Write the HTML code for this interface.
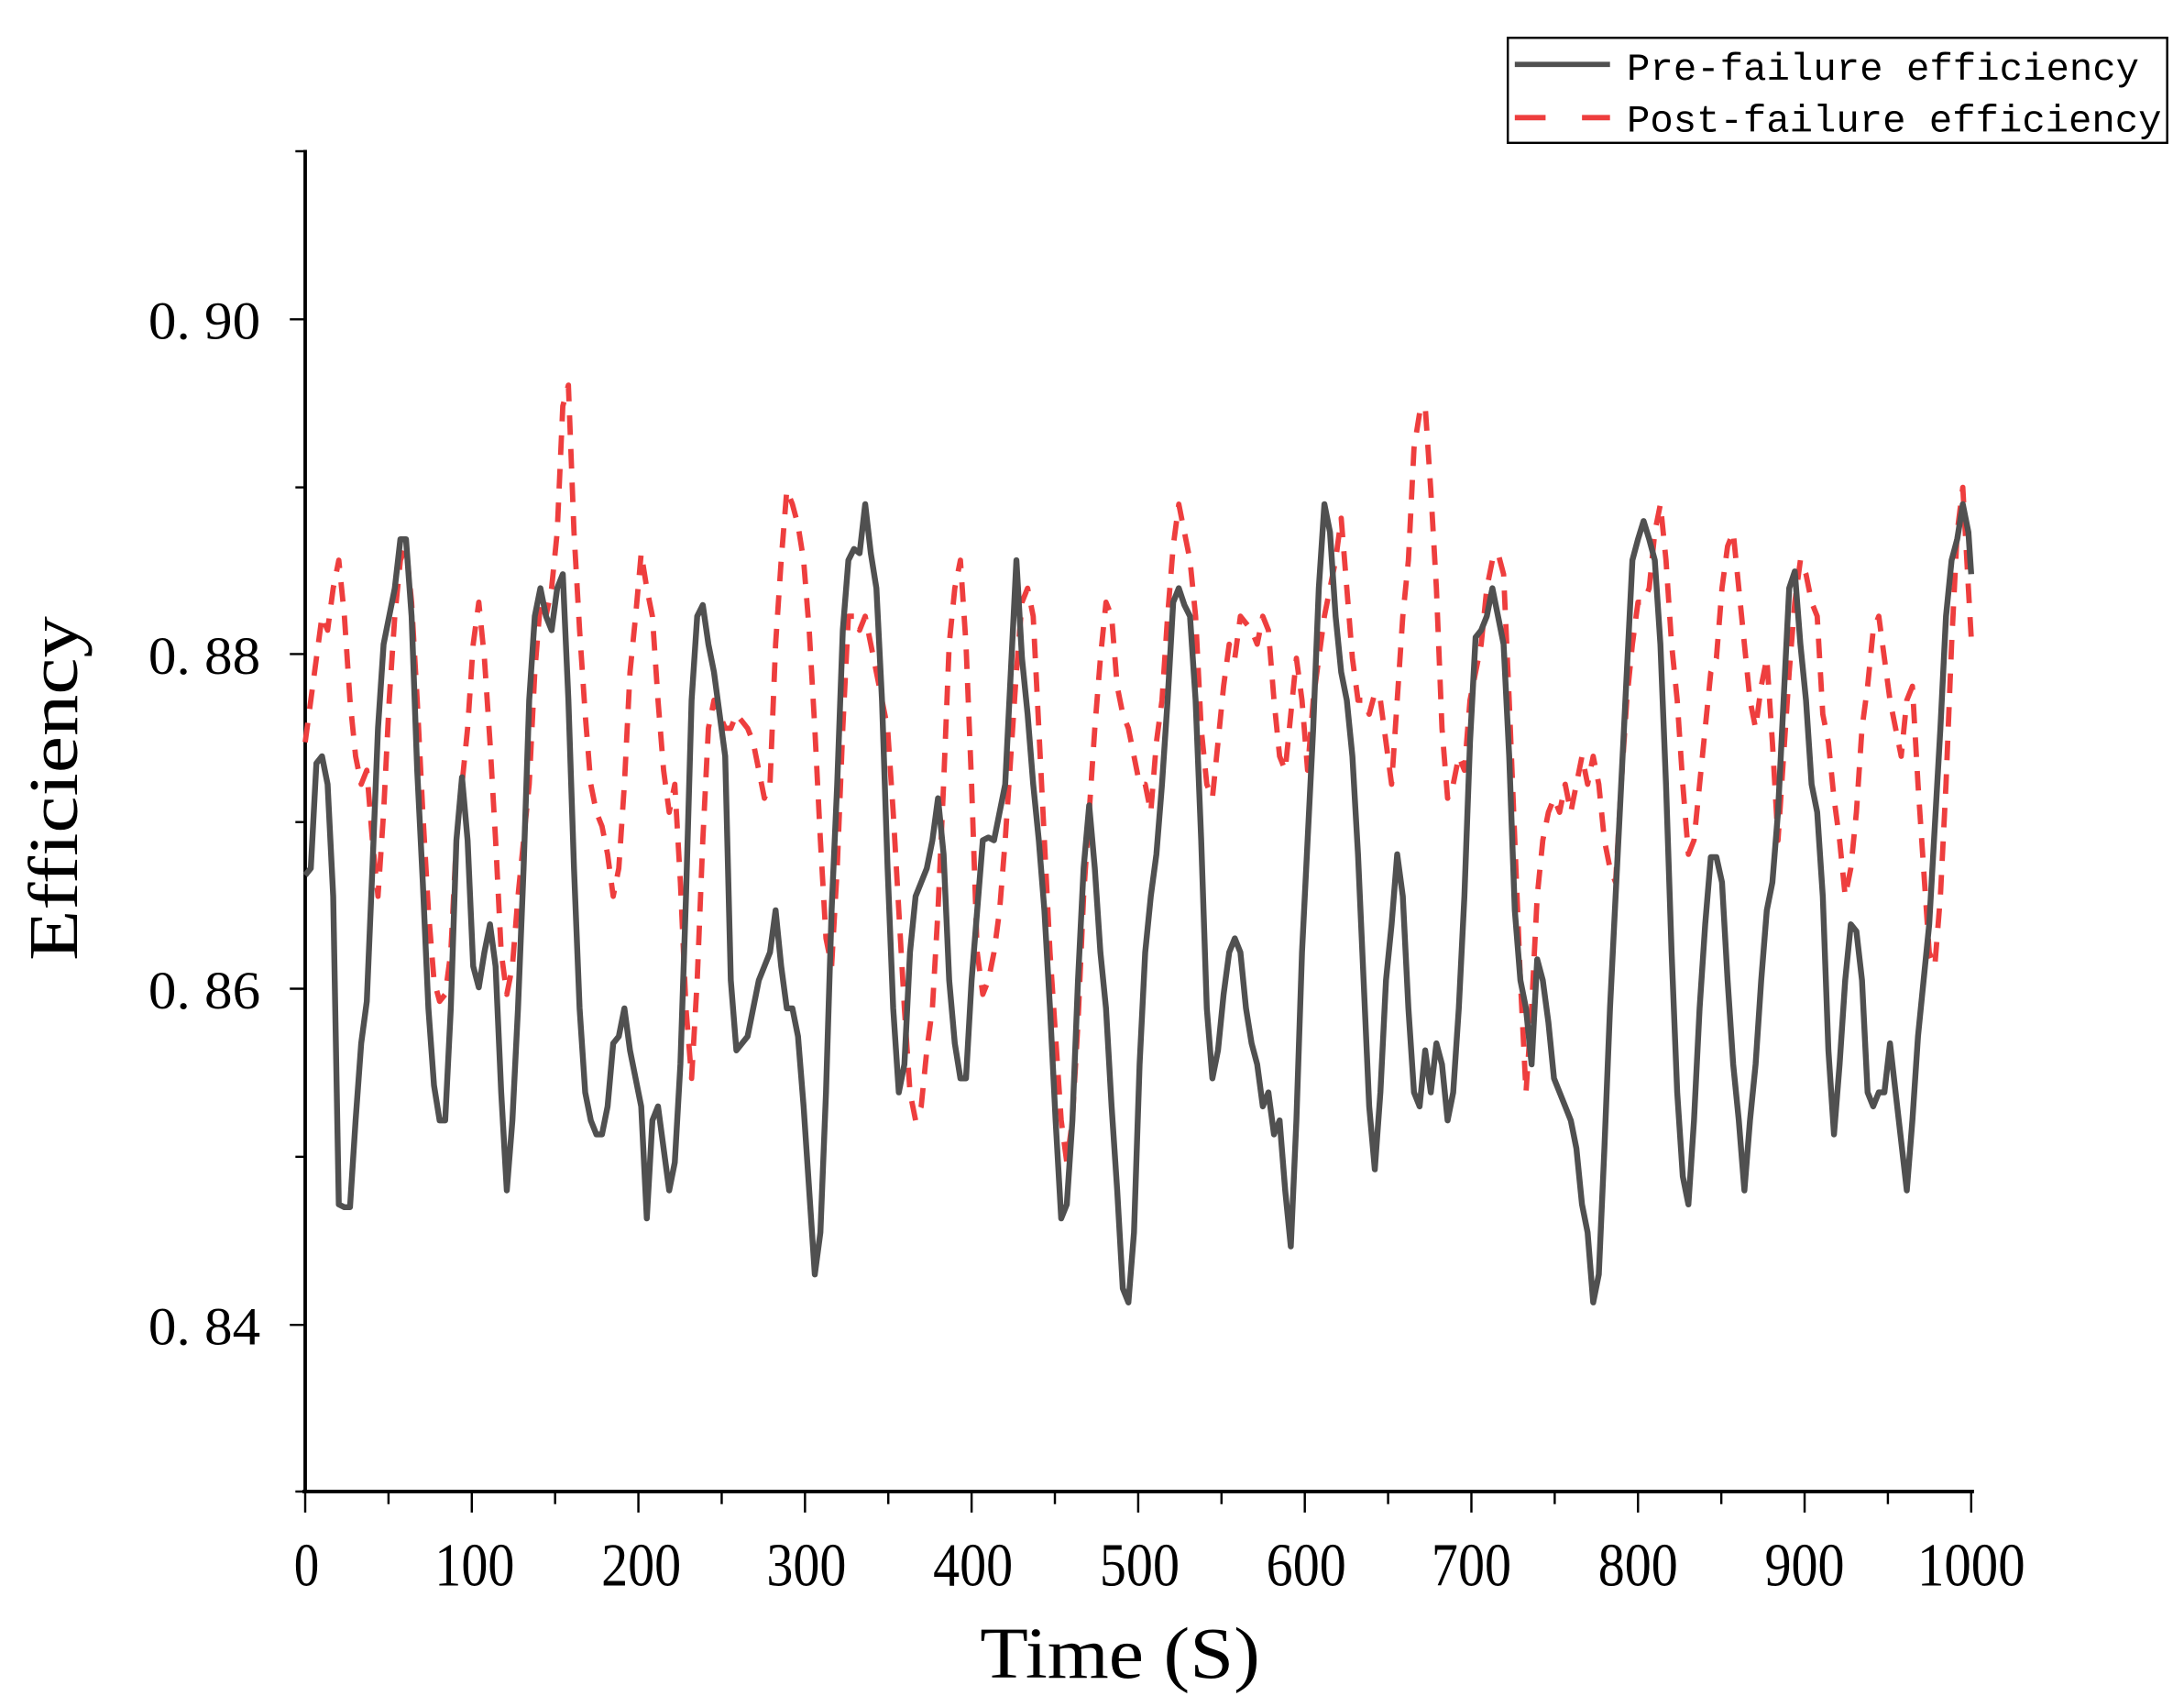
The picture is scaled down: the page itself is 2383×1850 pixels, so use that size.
<!DOCTYPE html>
<html><head><meta charset="utf-8"><style>
html,body{margin:0;padding:0;background:#fff;}
svg{display:block;}
</style></head><body>
<svg width="2383" height="1850" viewBox="0 0 1560 1211" preserveAspectRatio="none" xmlns="http://www.w3.org/2000/svg">
<rect width="1560" height="1211" fill="#fff"/>
<g stroke="#000" stroke-width="2.5" fill="none">
<line x1="218" y1="107" x2="218" y2="1066"/>
<line x1="216" y1="1065" x2="1410" y2="1065"/>
</g>
<g stroke="#000" stroke-width="1.6">
<line x1="207" y1="228" x2="218" y2="228"/>
<line x1="207" y1="467" x2="218" y2="467"/>
<line x1="207" y1="706" x2="218" y2="706"/>
<line x1="207" y1="946" x2="218" y2="946"/>
<line x1="211" y1="108" x2="218" y2="108"/>
<line x1="211" y1="348" x2="218" y2="348"/>
<line x1="211" y1="587" x2="218" y2="587"/>
<line x1="211" y1="826" x2="218" y2="826"/>
<line x1="211" y1="1065" x2="218" y2="1065"/>
<line x1="218" y1="1065" x2="218" y2="1080"/>
<line x1="337" y1="1065" x2="337" y2="1080"/>
<line x1="456" y1="1065" x2="456" y2="1080"/>
<line x1="575" y1="1065" x2="575" y2="1080"/>
<line x1="694" y1="1065" x2="694" y2="1080"/>
<line x1="813" y1="1065" x2="813" y2="1080"/>
<line x1="932" y1="1065" x2="932" y2="1080"/>
<line x1="1051" y1="1065" x2="1051" y2="1080"/>
<line x1="1170" y1="1065" x2="1170" y2="1080"/>
<line x1="1289" y1="1065" x2="1289" y2="1080"/>
<line x1="1408" y1="1065" x2="1408" y2="1080"/>
<line x1="277.5" y1="1065" x2="277.5" y2="1074"/>
<line x1="396.5" y1="1065" x2="396.5" y2="1074"/>
<line x1="515.5" y1="1065" x2="515.5" y2="1074"/>
<line x1="634.5" y1="1065" x2="634.5" y2="1074"/>
<line x1="753.5" y1="1065" x2="753.5" y2="1074"/>
<line x1="872.5" y1="1065" x2="872.5" y2="1074"/>
<line x1="991.5" y1="1065" x2="991.5" y2="1074"/>
<line x1="1110.5" y1="1065" x2="1110.5" y2="1074"/>
<line x1="1229.5" y1="1065" x2="1229.5" y2="1074"/>
<line x1="1348.5" y1="1065" x2="1348.5" y2="1074"/>
</g>
<g font-family="Liberation Serif, serif" font-size="38" fill="#000" text-anchor="end">
<text x="186" y="242" textLength="80" lengthAdjust="spacingAndGlyphs">0. 90</text>
<text x="186" y="481" textLength="80" lengthAdjust="spacingAndGlyphs">0. 88</text>
<text x="186" y="720" textLength="80" lengthAdjust="spacingAndGlyphs">0. 86</text>
<text x="186" y="960" textLength="80" lengthAdjust="spacingAndGlyphs">0. 84</text>
</g>
<g font-family="Liberation Serif, serif" font-size="44" fill="#000" text-anchor="middle">
<text x="219" y="1132" textLength="18" lengthAdjust="spacingAndGlyphs">0</text>
<text x="339" y="1132" textLength="57" lengthAdjust="spacingAndGlyphs">100</text>
<text x="458" y="1132" textLength="57" lengthAdjust="spacingAndGlyphs">200</text>
<text x="576" y="1132" textLength="57" lengthAdjust="spacingAndGlyphs">300</text>
<text x="695" y="1132" textLength="57" lengthAdjust="spacingAndGlyphs">400</text>
<text x="814" y="1132" textLength="57" lengthAdjust="spacingAndGlyphs">500</text>
<text x="933" y="1132" textLength="57" lengthAdjust="spacingAndGlyphs">600</text>
<text x="1051" y="1132" textLength="57" lengthAdjust="spacingAndGlyphs">700</text>
<text x="1170" y="1132" textLength="57" lengthAdjust="spacingAndGlyphs">800</text>
<text x="1289" y="1132" textLength="57" lengthAdjust="spacingAndGlyphs">900</text>
<text x="1408" y="1132" textLength="77" lengthAdjust="spacingAndGlyphs">1000</text>
</g>
<text x="700" y="1198" font-family="Liberation Serif, serif" font-size="52" textLength="200" lengthAdjust="spacingAndGlyphs">Time (S)</text>
<text transform="translate(55,686) rotate(-90)" font-family="Liberation Serif, serif" font-size="50" textLength="246" lengthAdjust="spacingAndGlyphs">Efficiency</text>
<rect x="1077" y="27" width="471" height="75" fill="#fff" stroke="#000" stroke-width="1.6"/>
<line x1="1082" y1="46" x2="1150" y2="46" stroke="#505050" stroke-width="3.8"/>
<line x1="1082" y1="84" x2="1150" y2="84" stroke="#ee3e3e" stroke-width="3.8" stroke-dasharray="22,26"/>
<g font-family="Liberation Mono, monospace" font-size="27" fill="#000">
<text x="1162" y="57" textLength="366" lengthAdjust="spacingAndGlyphs">Pre-failure efficiency</text>
<text x="1162" y="94" textLength="382" lengthAdjust="spacingAndGlyphs">Post-failure efficiency</text>
</g>
<polyline fill="none" stroke="#ee3e3e" stroke-width="3.8" stroke-dasharray="14,10" stroke-linejoin="round" points="218,530 222,500 226,470 230,440 234,450 238,420 242,400 246,440 250,500 254,540 258,560 262,550 266,600 270,640 274,580 278,500 282,440 286,400 290,390 294,430 298,500 302,580 306,650 310,700 314,715 318,710 322,680 326,600 330,560 334,520 338,460 342,430 346,470 350,530 354,600 358,680 362,710 366,690 370,640 374,600 378,560 382,480 386,430 390,440 394,420 398,380 402,290 406,275 410,380 414,450 418,510 422,560 426,580 430,590 434,610 438,640 442,620 446,560 450,480 454,440 458,395 462,420 466,440 470,500 474,550 478,580 482,560 486,630 490,720 494,770 498,700 502,600 506,520 510,500 514,510 518,520 522,520 526,510 530,515 534,520 538,530 542,550 546,570 550,560 554,460 558,400 562,350 566,360 570,375 574,400 578,450 582,520 586,600 590,670 594,690 598,620 602,520 606,440 610,440 614,450 618,440 622,460 626,480 630,500 634,520 638,580 642,650 646,720 650,780 654,800 658,790 662,750 666,720 670,650 674,560 678,460 682,420 686,400 690,460 694,560 698,680 702,710 706,700 710,680 714,650 718,600 722,540 726,480 730,430 734,420 738,440 742,520 746,600 750,680 754,740 758,800 762,830 766,800 770,730 774,640 778,580 782,520 786,470 790,430 794,440 798,490 802,510 806,520 810,540 814,560 818,560 822,580 826,530 830,500 834,440 838,390 842,360 846,380 850,400 854,440 858,520 862,560 866,570 870,530 874,490 878,460 882,470 886,440 890,445 894,450 898,460 902,440 906,450 910,500 914,540 918,550 922,510 926,470 930,500 934,550 938,500 942,470 946,440 950,420 954,400 958,370 962,420 966,470 970,500 974,500 978,510 982,495 986,500 990,530 994,560 998,500 1002,440 1006,400 1010,320 1014,295 1018,290 1022,350 1026,420 1030,520 1034,570 1038,560 1042,540 1046,550 1050,500 1054,480 1058,460 1062,420 1066,400 1070,395 1074,410 1078,500 1082,600 1086,700 1090,780 1094,720 1098,640 1102,600 1106,580 1110,570 1114,580 1118,560 1122,580 1126,560 1130,540 1134,560 1138,540 1142,560 1146,600 1150,620 1154,630 1158,560 1162,500 1166,460 1170,430 1174,430 1178,420 1182,380 1186,360 1190,400 1194,460 1198,500 1202,560 1206,610 1210,600 1214,560 1218,520 1222,480 1226,470 1230,420 1234,390 1238,380 1242,420 1246,460 1250,500 1254,520 1258,490 1262,470 1266,530 1270,600 1274,540 1278,480 1282,430 1286,400 1290,410 1294,430 1298,440 1302,510 1306,530 1310,570 1314,600 1318,640 1322,620 1326,580 1330,520 1334,490 1338,450 1342,440 1346,470 1350,500 1354,520 1358,540 1362,500 1366,490 1370,560 1374,620 1378,680 1382,690 1386,640 1390,560 1394,460 1398,380 1402,348 1406,420 1408,455"/>
<polyline fill="none" stroke="#505050" stroke-width="4.2" stroke-linejoin="round" points="218,625 222,620 226,545 230,540 234,560 238,640 242,860 246,862 250,862 254,800 258,745 262,715 266,620 270,520 274,460 278,440 282,420 286,385 290,385 294,440 298,550 302,630 306,720 310,775 314,800 318,800 322,720 326,600 330,555 334,600 338,690 342,705 346,680 350,660 354,690 358,780 362,850 366,800 370,720 374,620 378,500 382,440 386,420 390,440 394,450 398,420 402,410 406,500 410,620 414,720 418,780 422,800 426,810 430,810 434,790 438,745 442,740 446,720 450,750 454,770 458,790 462,870 466,800 470,790 474,820 478,850 482,830 486,760 490,640 494,500 498,440 502,432 506,460 510,480 514,510 518,540 522,700 526,750 530,745 534,740 538,720 542,700 546,690 550,680 554,650 558,690 562,720 566,720 570,740 574,790 578,850 582,910 586,880 590,780 594,650 598,560 602,450 606,400 610,392 614,395 618,360 622,395 626,420 630,500 634,620 638,720 642,780 646,760 650,680 654,640 658,630 662,620 666,600 670,570 674,610 678,700 682,745 686,770 690,770 694,700 698,650 702,600 706,598 710,600 714,580 718,560 722,480 726,400 730,470 734,510 738,560 742,600 746,650 750,720 754,800 758,870 762,860 766,800 770,700 774,620 778,575 782,620 786,680 790,720 794,790 798,850 802,920 806,930 810,880 814,760 818,680 822,640 826,610 830,560 834,500 838,430 842,420 846,432 850,440 854,500 858,600 862,720 866,770 870,750 874,710 878,680 882,670 886,680 890,720 894,745 898,760 902,790 906,780 910,810 914,800 918,850 922,890 926,800 930,680 934,600 938,520 942,420 946,360 950,380 954,440 958,480 962,500 966,540 970,610 974,700 978,790 982,835 986,780 990,700 994,660 998,610 1002,640 1006,720 1010,780 1014,790 1018,750 1022,780 1026,745 1030,760 1034,800 1038,780 1042,720 1046,640 1050,530 1054,455 1058,450 1062,440 1066,420 1070,440 1074,460 1078,540 1082,650 1086,700 1090,720 1094,760 1098,685 1102,700 1106,730 1110,770 1114,780 1118,790 1122,800 1126,820 1130,860 1134,880 1138,930 1142,910 1146,820 1150,720 1154,640 1158,560 1162,480 1166,400 1170,385 1174,372 1178,385 1182,400 1186,460 1190,560 1194,680 1198,780 1202,840 1206,860 1210,800 1214,720 1218,660 1222,612 1226,612 1230,630 1234,700 1238,760 1242,800 1246,850 1250,800 1254,760 1258,700 1262,650 1266,630 1270,580 1274,500 1278,420 1282,408 1286,460 1290,500 1294,560 1298,580 1302,640 1306,750 1310,810 1314,760 1318,700 1322,660 1326,665 1330,700 1334,780 1338,790 1342,780 1346,780 1350,745 1354,780 1358,815 1362,850 1366,800 1370,740 1374,700 1378,660 1382,590 1386,520 1390,440 1394,400 1398,385 1402,360 1406,380 1408,410"/>
</svg>
</body></html>
